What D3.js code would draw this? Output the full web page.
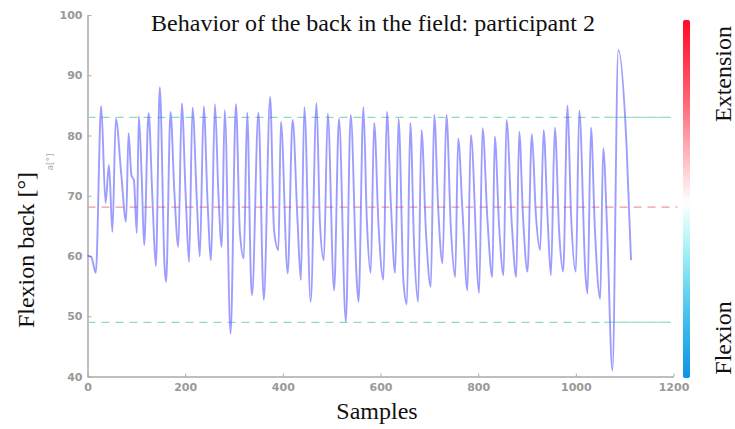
<!DOCTYPE html>
<html>
<head>
<meta charset="utf-8">
<script src="https://cdn.jsdelivr.net/npm/d3@7"></script>
<style>
  body { margin: 0; background: #fff; }
  svg { display: block; }
</style>
</head>
<body>
<div id="wrapper"></div>
<script>
// values: sample index and back angle
const samples = [0, 8, 17, 28, 37, 44, 51, 58, 69, 79, 84, 90, 95, 101, 105, 111, 116, 125, 133, 140,
    148, 158, 161, 170, 178, 186, 193, 201, 208, 215, 224, 230, 238, 246, 253, 261, 268, 275, 281, 293,
    304, 312, 320, 327, 335, 337, 350, 361, 374, 382, 391, 396, 410, 420, 430, 437, 444, 457, 469, 476,
    484, 492, 505, 515, 529, 539, 551, 555, 565, 572, 580, 587, 596, 606, 613, 621, 630, 637, 647, 654,
    661, 669, 677, 684, 693, 703, 710, 718, 727, 735, 744, 753, 759, 768, 778, 785, 802, 809, 819, 829,
    834, 843, 852, 858, 869, 878, 884, 892, 901, 910, 918, 927, 934, 942, 949, 957, 966, 974, 983, 990,
    1000, 1007, 1020, 1024, 1031, 1039, 1050, 1056, 1064, 1075, 1087, 1104, 1113]
const angles = [60.1, 59.8, 57.2, 84.9, 68.8, 75.1, 64.0, 82.8, 73.7, 65.7, 80.4, 73.4, 72.6, 63.8, 83.2, 73.1, 61.8, 83.7, 69.5, 58.3,
    88.0, 57.9, 55.7, 83.9, 70.4, 61.5, 85.3, 70.1, 59.0, 84.6, 69.0, 59.9, 84.8, 68.7, 59.3, 85.2, 70.4, 61.5, 84.2, 47.1,
    85.2, 64.0, 59.6, 83.8, 55.5, 53.5, 83.8, 52.7, 86.4, 64.3, 61.0, 82.3, 57.1, 82.6, 66.0, 56.0, 84.7, 52.4, 85.4, 65.4,
    59.3, 83.6, 54.3, 82.8, 49.1, 83.4, 56.5, 52.4, 84.7, 66.0, 57.2, 82.1, 65.0, 56.1, 83.9, 69.1, 57.2, 82.8, 55.8, 52.0,
    82.1, 61.3, 52.4, 80.9, 64.1, 54.9, 83.4, 68.1, 58.8, 83.4, 64.8, 56.5, 79.5, 67.3, 54.3, 80.1, 53.9, 81.2, 66.0, 56.5,
    79.8, 64.8, 56.8, 82.6, 65.1, 56.5, 80.6, 66.3, 57.4, 80.2, 67.1, 61.0, 80.9, 66.6, 56.8, 81.3, 63.8, 57.4, 85.0, 67.3,
    57.4, 84.1, 56.5, 53.8, 81.3, 64.5, 52.9, 77.9, 64.6, 41.0, 94.2, 78.1, 59.3]

// reference levels (dashed lines)
const upperLevel = 83.0
const meanLevel = 68.1
const lowerLevel = 49.0

const xTicks = [0, 200, 400, 600, 800, 1000, 1200]
const yTicks = [40, 50, 60, 70, 80, 90, 100]

const title = "Behavior of the back in the field: participant 2"

const width = 735
const height = 429

const svg = d3.select("#wrapper")
    .append("svg")
    .attr("width", width)
    .attr("height", height)

const xScale = d3.scaleLinear()
    .domain([0, 1200])
    .range([87.5, 673.5])

const yScale = d3.scaleLinear()
    .domain([40, 100])
    .range([376.5, 15])

// axes
const tickFont = g => g.selectAll("text")
    .attr("font-family", "DejaVu Sans")
    .attr("font-size", "11px")
    .attr("font-weight", "bold")
    .attr("fill", "#999")

const xAxis = svg.append("g")
    .attr("transform", `translate(0,${yScale(40)})`)
    .call(d3.axisBottom(xScale).tickValues(xTicks).tickFormat(d3.format("d"))
        .tickSize(-3).tickPadding(7).tickSizeOuter(0))
    .call(tickFont)
xAxis.select(".domain").attr("stroke", "#aaa").attr("stroke-width", 1.5)
xAxis.selectAll(".tick line").attr("stroke", "#aaa")

const yAxis = svg.append("g")
    .attr("transform", `translate(${xScale(0)},0)`)
    .call(d3.axisLeft(yScale).tickValues(yTicks).tickSize(-4).tickPadding(5).tickSizeOuter(0))
    .call(tickFont)
yAxis.select(".domain").attr("stroke", "#aaa").attr("stroke-width", 1.5)
yAxis.selectAll(".tick line").attr("stroke", "#aaa")

// reference lines
const levelLine = (value, color, x2) => svg.append("line")
    .attr("x1", xScale(0))
    .attr("x2", xScale(x2))
    .attr("y1", yScale(value))
    .attr("y2", yScale(value))
    .attr("stroke", color)
    .attr("stroke-width", 1.3)
    .attr("stroke-dasharray", "8 6")

levelLine(upperLevel, "#8fd9c2", 1195)
levelLine(lowerLevel, "#8fd9c2", 1195)
levelLine(meanLevel, "#f29a9a", 1208)

// the two green lines turn solid on the right side
;[upperLevel, lowerLevel].forEach(v => {
    svg.append("line")
        .attr("x1", xScale(1058))
        .attr("x2", xScale(1195))
        .attr("y1", yScale(v))
        .attr("y2", yScale(v))
        .attr("stroke", "#a6dfcb")
        .attr("stroke-width", 1.3)
})

// signal
const points = samples.map((s, i) => [s, angles[i]])
const line = d3.line()
    .x(d => xScale(d[0]))
    .y(d => yScale(d[1]))
    .curve(d3.curveMonotoneX)

svg.append("path")
    .attr("d", line(points))
    .attr("fill", "none")
    .attr("stroke", "#5b5bff")
    .attr("stroke-opacity", 0.6)
    .attr("stroke-width", 1.9)
    .attr("stroke-linejoin", "round")

// colour bar
const grad = svg.append("defs").append("linearGradient")
    .attr("id", "bar")
    .attr("x1", 0).attr("x2", 0)
    .attr("y1", 0).attr("y2", 1)
grad.selectAll("stop")
    .data([["0%", "#ff0a28"], ["22%", "#ff6272"], ["40%", "#ffc4c9"], ["51%", "#ffffff"],
        ["65%", "#9ff1f6"], ["82%", "#48c2ee"], ["100%", "#0e92e6"]])
    .enter()
    .append("stop")
    .attr("offset", d => d[0])
    .attr("stop-color", d => d[1])

svg.append("rect")
    .attr("x", 683)
    .attr("y", 20)
    .attr("width", 7)
    .attr("height", 358)
    .attr("rx", 2)
    .attr("fill", "url(#bar)")

// texts
const serif = "Liberation Serif, Times New Roman, serif"

svg.append("text")
    .attr("x", 373)
    .attr("y", 31)
    .attr("text-anchor", "middle")
    .attr("font-family", serif)
    .attr("font-size", "24px")
    .attr("fill", "#111")
    .text(title)

svg.append("text")
    .attr("x", 377)
    .attr("y", 419)
    .attr("text-anchor", "middle")
    .attr("font-family", serif)
    .attr("font-size", "24px")
    .attr("fill", "#111")
    .text("Samples")

svg.append("text")
    .attr("transform", "translate(34,250) rotate(-90)")
    .attr("text-anchor", "middle")
    .attr("font-family", serif)
    .attr("font-size", "24px")
    .attr("fill", "#111")
    .text("Flexion back [°]")

svg.append("text")
    .attr("transform", "translate(53,162) rotate(-90)")
    .attr("text-anchor", "middle")
    .attr("font-family", "DejaVu Sans")
    .attr("font-size", "9px")
    .attr("fill", "#aaa")
    .text("a[°]")

svg.append("text")
    .attr("transform", "translate(731,74) rotate(-90)")
    .attr("text-anchor", "middle")
    .attr("font-family", serif)
    .attr("font-size", "24px")
    .attr("fill", "#111")
    .text("Extension")

svg.append("text")
    .attr("transform", "translate(731,338) rotate(-90)")
    .attr("text-anchor", "middle")
    .attr("font-family", serif)
    .attr("font-size", "24px")
    .attr("fill", "#111")
    .text("Flexion")
</script>
</body>
</html>
